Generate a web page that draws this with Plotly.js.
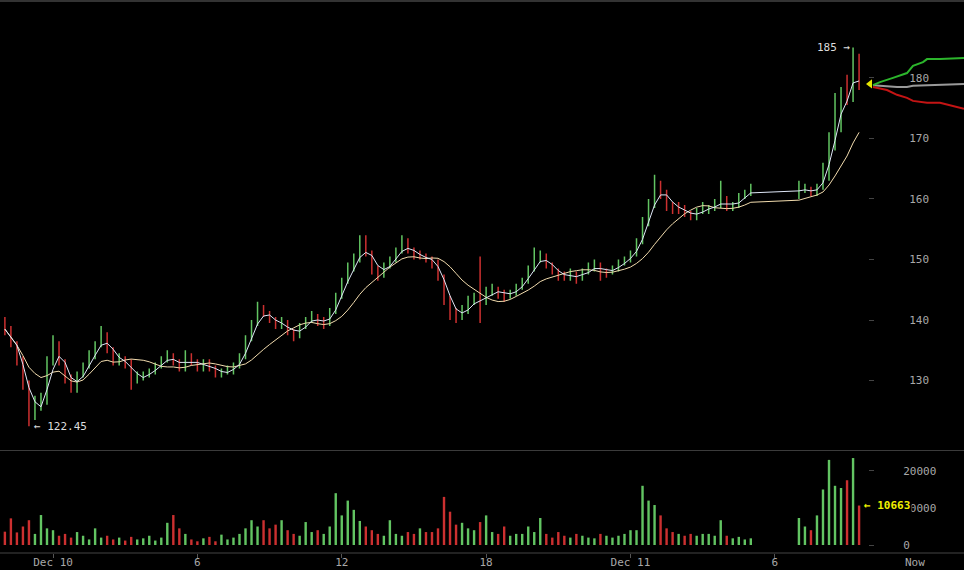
<!DOCTYPE html>
<html><head><meta charset="utf-8">
<script src="https://cdn.plot.ly/plotly-3.0.1.min.js"></script>
<style>html,body{margin:0;padding:0;background:#000;}#chart{width:964px;height:570px;}</style>
</head><body><div id="chart"></div>
<script>
// 15-minute bars starting Dec 9 22:00 (null = no trading data)
const barStart = Date.UTC(2013, 11, 9, 22, 0);
const barMinutes = 15;
const openPx = [
139.5,138.5,136,133,129,124.5,126,126.5,133,136,
133,130,128.5,131,132.5,134,136,137.5,135,133,
133.5,133,130,130.5,131,131.5,132.5,133.5,134,133,
132,134,133,132,133,132,131,131.5,131.5,132.5,
134,137,139.5,141.5,141,140,139,139.5,138,137.5,
139,140,140.5,139.5,139.5,141.5,144,146.5,148.5,150,
152.5,151,148.5,147.5,149,150,151.5,152.5,151.5,150.5,
150.5,150,149.5,147,143.5,141.5,140.5,141.5,143,143.5,
143,144.5,145,144.5,144,144.5,145.5,146.5,148.5,150,
150.5,149,148,147.5,147,147.5,147,148,148.5,149,
148,148,148.5,149.5,150,151,153,156,159,162,
161,159,158.5,158.5,157.5,157,158,158.5,158.5,159,
160,158.5,159,160.5,161,null,null,null,null,null,
null,null,161.5,161.5,161.5,161,162,165,170,174,
178,176.5,183];
const highPx = [
140.5,139,136.5,134,130,127.5,128,134,137.5,136.5,
133.5,131,131.5,133,135,136.5,139,138,135.5,134.5,
134,133.5,131.5,131.5,132,133,134,135,134.5,133.5,
135,134.5,133.5,133.5,133.5,132.5,132,132.5,133,134.5,
137.5,140,143,142.5,141.5,140.5,140.5,140,138.5,139.5,
140.5,141.5,141,140.5,142,144.5,147,149.5,151,154,
154,151.5,149,149.5,150.5,152,154,153.5,152,151.5,
151,150.5,150,147.5,144,142,142.5,144,144.5,150.5,
145.5,146,145.5,145,145,146,147,149,152,151.5,
151,149.5,148.5,148,148.5,148,148.5,149.5,150,149.5,
148.5,149,150,150.5,151.5,153.5,157,160,164,163,
161.5,159.5,159.5,159,158,158.5,159.5,159,160,163,
160.5,159.5,161,161.5,162.5,null,null,null,null,null,
null,null,163,162.5,162,162.5,166,171,177.5,178.5,
180.5,185,184];
const lowPx = [
137.5,135.5,132.5,128.5,122.45,123.5,125,126,132.5,132.5,
129.5,128,128,130.5,132,133.5,135.5,134.5,132.5,132.5,
132,128.5,129.5,130,130.5,131,132,133,132.5,131.5,
131.5,132.5,131.5,131.5,131.5,130.5,130.5,131,131,132,
133.5,136.5,139,140.5,139.5,138.5,138.5,137.5,136.5,137,
138.5,139.5,139,138.5,139,141,143.5,146,148,149.5,
150.5,147.5,146.5,147,148.5,149.5,151,151,150,150,
149.5,148.5,146.5,142.5,140,139.5,140,141,142.5,139.5,
142.5,144,143.5,143,143.5,144,145,146,148,149.5,
148.5,147.5,146.5,146.5,146.5,146,146.5,147.5,148,146.5,
147,147.5,148,149,149.5,150.5,152.5,155.5,158.5,160,
158,157.5,157.5,157,156.5,156.5,157.5,157.5,158,158.5,
158,158,158.5,160,160.5,null,null,null,null,null,
null,null,160,161,160.5,160.5,161.5,163,168,171,
175.5,176,178];
const closePx = [
138.5,136,133,129,124.5,126,126.5,133,136,133,
130,128.5,131,132.5,134,136,137.5,135,133,133.5,
133,130,130.5,131,131.5,132.5,133.5,134,133,132,
134,133,132,133,132,131,131.5,131.5,132.5,134,
137,139.5,141.5,141,140,139,139.5,138,137.5,139,
140,140.5,139.5,139.5,141.5,144,146.5,148.5,150,152.5,
151,148.5,147.5,149,150,151.5,152.5,151.5,150.5,150.5,
150,149.5,147,143.5,141.5,140.5,141.5,143,143.5,143,
144.5,145,144.5,144,144.5,145.5,146.5,148.5,150,150.5,
149,148,147.5,147,147.5,147,148,148.5,149,148,
148,148.5,149.5,150,151,153,156,159,162,161,
159,158.5,158.5,157.5,157,158,158.5,158.5,159,160,
158.5,159,160.5,161,161.5,null,null,null,null,null,
null,null,161.5,161.5,161,162,165,170,174,178,
176.5,183,179];
const volume = [
3600,7200,3400,5000,6700,3000,8100,4500,4000,2500,
3000,2000,3500,2500,1500,4500,2000,2500,1500,2000,
1200,2200,1500,1800,2500,1200,2000,6000,8100,4500,
3000,1500,1000,1800,2200,1000,2800,1500,2000,3000,
4500,6700,5000,6700,4500,5500,6700,4000,3000,2500,
6200,3500,4000,3000,5000,14000,8000,12000,9500,6500,
5000,4000,3000,2500,6700,3000,2500,3500,3000,4500,
3500,3500,4500,13000,9000,5500,6000,4500,4000,6200,
8000,3500,3000,5000,2500,3000,3000,5000,3500,7300,
3000,2000,3500,2500,2000,3000,2500,2000,1800,3000,
2500,2000,2500,3000,4000,4000,16000,12000,10800,8000,
4500,3500,3000,2500,3000,2500,3000,3000,2500,6700,
2500,1800,2200,1500,1800,null,null,null,null,null,
null,null,7300,5000,4000,8000,15000,23000,16000,15400,
17500,23500,10663];

const tickTimes = ['2013-12-10 00:00','2013-12-10 06:00','2013-12-10 12:00','2013-12-10 18:00','2013-12-11 00:00','2013-12-11 06:00'];
const tickLabels = ['Dec 10','6','12','18','Dec 11','6'];
const priceTicks = [130,140,150,160,170,180];
const volumeTicks = [0,10000,20000];

// order book depth (right side)
const askDepth = [0,7,20,34,40,50,54,67,91];
const askPrice = [178.8,179.3,180,180.8,182,182.6,183.1,183.1,183.3];
const bidDepth = [0,14,24,34,40,54,67,77,84,91];
const bidPrice = [178.5,178,177.2,176.7,176.2,175.9,175.9,175.5,175.2,174.9];
const midDepth = [0,24,34,40,91];
const midPrice = [178.8,178.5,178.5,178.7,179];

const FAST = 3, SLOW = 10;

function fmt(ms){const d=new Date(ms);const p=n=>String(n).padStart(2,'0');
  return d.getUTCFullYear()+'-'+p(d.getUTCMonth()+1)+'-'+p(d.getUTCDate())+' '+p(d.getUTCHours())+':'+p(d.getUTCMinutes())+':'+p(d.getUTCSeconds());}
const times = closePx.map((_,k)=>fmt(barStart + k*barMinutes*60000));
function sma(vals,n){const h=[];return vals.map(v=>{if(v==null)return null;h.push(v);if(h.length>n)h.shift();return h.reduce((a,b)=>a+b,0)/h.length;});}
const fastMA = sma(closePx, FAST), slowMA = sma(closePx, SLOW);
const volColors = closePx.map((c,k)=> c==null?'#000':(c>=openPx[k]?'#62c462':'#cc3030'));

let hiK=0, loK=0, lastK=0;
highPx.forEach((v,k)=>{ if(v!=null && v>highPx[hiK]) hiK=k; if(v!=null) lastK=k; });
lowPx.forEach((v,k)=>{ if(v!=null && v<lowPx[loK]) loK=k; });

const hourMs = 3600000;
const dec10 = Date.UTC(2013,11,10,0,0);
const xRange = [fmt(dec10 - 2.203*hourMs), fmt(dec10 + 33.87*hourMs)];
const mono = 'DejaVu Sans Mono, monospace';

const traces = [
 {type:'ohlc', x:times, open:openPx, high:highPx, low:lowPx, close:closePx, xaxis:'x', yaxis:'y',
  increasing:{line:{color:'#62c462', width:1.5}}, decreasing:{line:{color:'#cc3030', width:1.5}}, tickwidth:0.12, hoverinfo:'skip'},
 {type:'scatter', mode:'lines', x:times, y:slowMA, connectgaps:true, line:{color:'#f2dcae', width:1}, hoverinfo:'skip'},
 {type:'scatter', mode:'lines', x:times, y:fastMA, connectgaps:true, line:{color:'#dfe7f7', width:1}, hoverinfo:'skip'},
 {type:'bar', x:times, y:volume, yaxis:'y2', marker:{color:volColors, line:{width:0}}, width:0.4*barMinutes*60000, hoverinfo:'skip'},
 {type:'scatter', mode:'lines', x:midDepth, y:midPrice, xaxis:'x3', yaxis:'y', line:{color:'#9a9a9a', width:2}, hoverinfo:'skip'},
 {type:'scatter', mode:'lines', x:askDepth, y:askPrice, xaxis:'x3', yaxis:'y', line:{color:'#2cb52c', width:2}, hoverinfo:'skip'},
 {type:'scatter', mode:'lines', x:bidDepth, y:bidPrice, xaxis:'x3', yaxis:'y', line:{color:'#c41414', width:2}, hoverinfo:'skip'},
 {type:'scatter', mode:'markers', x:[-3], y:[closePx[lastK]], xaxis:'x3', yaxis:'y', cliponaxis:false,
  marker:{symbol:'triangle-left', size:8, color:'#e6e600'}, hoverinfo:'skip'}
];

const axisFont = {family:mono, size:11, color:'#a8a8a8'};
const layout = {
 width:964, height:570, paper_bgcolor:'#000', plot_bgcolor:'#000', showlegend:false, hovermode:false,
 margin:{l:0, r:0, t:1, b:17}, font:{family:mono, size:11, color:'#a8a8a8'},
 xaxis:{type:'date', domain:[0,0.9004], range:xRange, anchor:'y2', showgrid:false, zeroline:false, showline:false,
   tickvals:tickTimes, ticktext:tickLabels, ticks:'outside', ticklen:4, tickcolor:'#555', tickfont:axisFont,
   ticklabelstandoff:-5, rangeslider:{visible:false}, automargin:false},
 yaxis:{domain:[0.1866,1], range:[118.53,192.7], anchor:'x', side:'right', showgrid:false, zeroline:false,
   tickvals:priceTicks, ticks:'outside', ticklen:5, tickcolor:'#444', tickfont:axisFont, ticklabelstandoff:33, automargin:false},
 yaxis2:{domain:[0,0.1848], range:[-2162,25405], anchor:'x', side:'right', showgrid:false, zeroline:false,
   tickvals:volumeTicks, tickformat:'d', ticks:'outside', ticklen:5, tickcolor:'#444', tickfont:axisFont, ticklabelstandoff:27, automargin:false},
 xaxis3:{domain:[0.9004,1], range:[-5,91], anchor:'y', visible:false, showgrid:false, zeroline:false},
 yaxis4:{overlaying:'y', range:[118.53,192.7], anchor:'free', position:1, side:'right', showgrid:false, zeroline:false,
   tickvals:priceTicks, ticks:'inside', ticklen:5, tickcolor:'#444', showticklabels:false},
 yaxis5:{overlaying:'y2', range:[-2162,25405], anchor:'free', position:1, side:'right', showgrid:false, zeroline:false,
   tickvals:volumeTicks, ticks:'inside', ticklen:5, tickcolor:'#444', showticklabels:false},
 shapes:[
  {type:'line', xref:'paper', yref:'paper', x0:0, x1:1, y0:1, y1:1, line:{color:'#333', width:2}},
  {type:'line', xref:'paper', yref:'paper', x0:0, x1:1, y0:0.1857, y1:0.1857, line:{color:'#3c3c3c', width:1}},
  {type:'line', xref:'paper', yref:'paper', x0:0, x1:1, y0:0, y1:0, line:{color:'#444', width:1}}
 ],
 annotations:[
  {x:times[hiK], y:highPx[hiK], xref:'x', yref:'y', text:highPx[hiK]+' →', showarrow:false, xanchor:'right', yanchor:'middle', xshift:-1,
   font:{family:mono, size:11, color:'#dddddd'}},
  {x:times[loK], y:lowPx[loK], xref:'x', yref:'y', text:'← '+lowPx[loK].toFixed(2), showarrow:false, xanchor:'left', yanchor:'middle', xshift:3,
   font:{family:mono, size:11, color:'#dddddd'}},
  {x:times[lastK], y:volume[lastK], xref:'x', yref:'y2', text:'<b>← '+volume[lastK]+'</b>', showarrow:false, xanchor:'left', yanchor:'middle', xshift:3,
   bgcolor:'#000', font:{family:mono, size:11, color:'#f0f000'}},
  {x:0.949, y:0, xref:'paper', yref:'paper', text:'Now', showarrow:false, xanchor:'center', yanchor:'middle', yshift:-9,
   font:{family:mono, size:11, color:'#a8a8a8'}}
 ]
};
Plotly.newPlot('chart', traces, layout, {displayModeBar:false, staticPlot:true});
</script></body></html>
